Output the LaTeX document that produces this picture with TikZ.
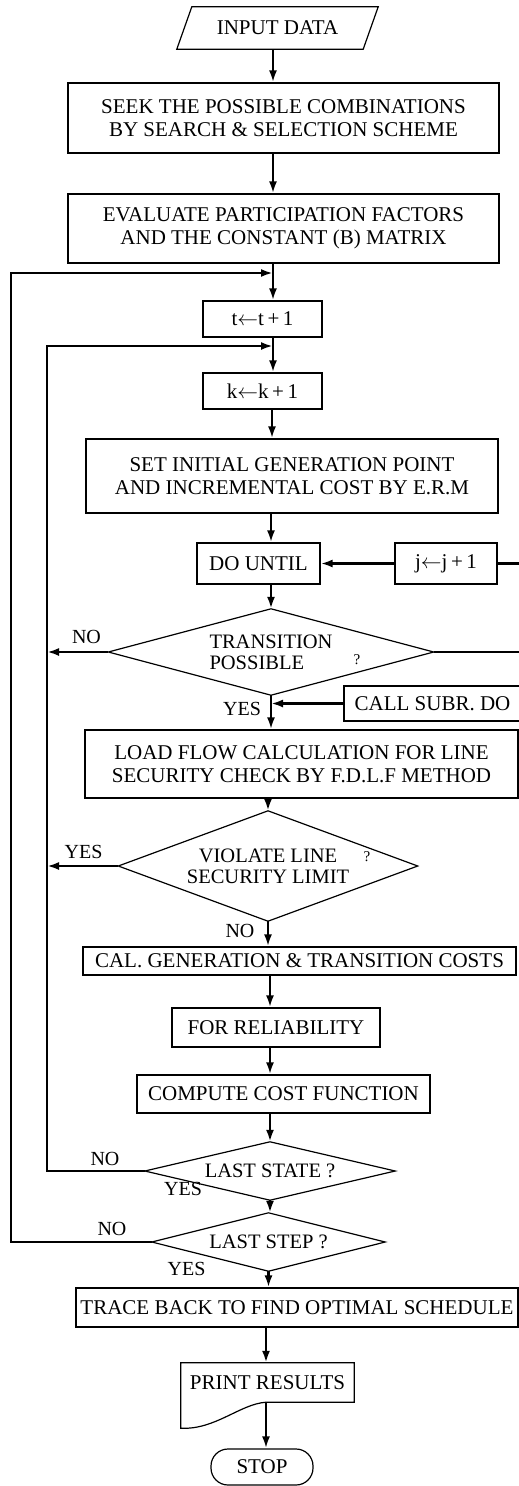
\documentclass[tikz,border=0pt]{standalone}
\usepackage{fontspec}
\setmainfont{Liberation Serif}
\usetikzlibrary{arrows.meta}
\begin{document}
\begin{tikzpicture}[x=1pt,y=-1pt,
  box/.style={draw, line width=1.2pt, inner sep=0pt, align=center, font=\fontsize{21}{23}\selectfont},
  shp/.style={inner sep=0pt, align=center, font=\fontsize{20.5}{21}\selectfont},
  outl/.style={line width=1.2pt, line join=miter},
  conn/.style={line width=2.5pt},
  arr/.style={conn, -{Latex[length=12pt,width=8pt]}},
  lbl/.style={font=\fontsize{20}{22}\selectfont, inner sep=0pt},
  qm/.style={font=\fontsize{15}{16}\selectfont, inner sep=0pt}]
\clip (0,0) rectangle (519,1486);
\fill[white] (0,0) rectangle (519,1486);
% axis coordinates
\coordinate (a1) at (273,0);
\coordinate (a2) at (272,0);
\coordinate (a3) at (271,0);
\coordinate (a4) at (266,0);
\coordinate (ox) at (11,0);
\coordinate (ix) at (47,0);
\coordinate (rx) at (530,0);
\coordinate (j1) at (273,273);
\coordinate (j2) at (273,346);
% nodes
\node[shp, font=\fontsize{21}{23}\selectfont, minimum width=186pt, minimum height=42pt] (inp) at (277.5,28) {INPUT DATA};
\draw[outl] ([xshift=7.5pt]inp.north west) -- ([xshift=7.5pt]inp.north east) -- ([xshift=-7.5pt]inp.south east) -- ([xshift=-7.5pt]inp.south west) -- cycle;
\node[box, minimum width=431pt, minimum height=70pt] (seek) at (283.5,118) {SEEK THE POSSIBLE COMBINATIONS\\BY SEARCH \& SELECTION SCHEME};
\node[box, minimum width=431pt, minimum height=69pt] (eval) at (283.5,228.5) {EVALUATE PARTICIPATION FACTORS\\AND THE CONSTANT (B) MATRIX};
\node[box, minimum width=119pt, minimum height=36pt] (tb) at (262.5,319) {t$\leftarrow$t\,+\,1};
\node[box, minimum width=119pt, minimum height=36pt] (kb) at (262.5,391) {k$\leftarrow$k\,+\,1};
\node[box, minimum width=412pt, minimum height=74pt] (set) at (292,476) {SET INITIAL GENERATION POINT\\AND INCREMENTAL COST BY E.R.M};
\node[box, minimum width=123pt, minimum height=41pt] (du) at (258.5,563.5) {DO UNTIL};
\node[box, minimum width=102pt, minimum height=41pt] (jb) at (446,563.5) {j$\leftarrow$j\,+\,1};
\node[shp, align=left, minimum width=325pt, minimum height=86pt] (tr) at (271,652) {TRANSITION\\POSSIBLE};
\draw[outl] (tr.north) -- (tr.east) -- (tr.south) -- (tr.west) -- cycle;
\node[qm] (q1) at (357,660) {?};
\node[box, minimum width=177pt, minimum height=35pt] (cs) at (432.5,703.5) {CALL SUBR. DO};
\node[box, minimum width=433pt, minimum height=68pt] (ld) at (301.5,764) {LOAD FLOW CALCULATION FOR LINE\\SECURITY CHECK BY F.D.L.F METHOD};
\node[shp, minimum width=299pt, minimum height=110pt] (vi) at (268,866) {VIOLATE LINE\\SECURITY LIMIT};
\draw[outl] (vi.north) -- (vi.east) -- (vi.south) -- (vi.west) -- cycle;
\node[qm] (q2) at (367,857) {?};
\node[box, minimum width=433pt, minimum height=28pt] (cal) at (299.5,961) {CAL. GENERATION \& TRANSITION COSTS};
\node[box, minimum width=208pt, minimum height=39pt] (fr) at (276,1027.5) {FOR RELIABILITY};
\node[box, minimum width=293pt, minimum height=38pt] (cp) at (283.5,1094) {COMPUTE COST FUNCTION};
\node[shp, minimum width=250pt, minimum height=58pt] (ls) at (270,1171) {LAST STATE ?};
\draw[outl] (ls.north) -- (ls.east) -- (ls.south) -- (ls.west) -- cycle;
\node[shp, minimum width=233pt, minimum height=58pt] (lp) at (268.5,1242) {LAST STEP ?};
\draw[outl] (lp.north) -- (lp.east) -- (lp.south) -- (lp.west) -- cycle;
\node[box, minimum width=442pt, minimum height=39pt] (trc) at (297,1307.5) {TRACE BACK TO FIND OPTIMAL SCHEDULE};
\node[shp, font=\fontsize{21}{23}\selectfont, minimum width=173pt, minimum height=39pt] (pr) at (267.5,1382.5) {PRINT RESULTS};
\draw[outl] (pr.south -| a4) -- (pr.south east) -- (pr.north east) -- (pr.north west) -- ([yshift=-26pt]pr.south west) .. controls (215,1430) and (240,1404) .. (pr.south -| a4);
\node[box, rounded corners=17pt, minimum width=102pt, minimum height=36pt] (stop) at (262,1467) {STOP};
% labels
\node[lbl] (no1) at (86.5,637) {NO};
\node[lbl] (yes1) at (242,709) {YES};
\node[lbl] (yes2) at (83.5,852) {YES};
\node[lbl] (no2) at (240,931) {NO};
\node[lbl] (no3) at (105,1159) {NO};
\node[lbl] (yes3) at (183,1189) {YES};
\node[lbl] (no4) at (112,1229) {NO};
\node[lbl] (yes4) at (186.5,1269) {YES};
% main flow
\draw[arr] (inp.south -| a1) -- (seek.north -| a1);
\draw[arr] (seek.south -| a1) -- (eval.north -| a1);
\draw[arr] (eval.south -| a1) -- (tb.north -| a1);
\draw[arr] (tb.south -| a1) -- (kb.north -| a1);
\draw[arr] (kb.south -| a2) -- (set.north -| a2);
\draw[arr] (set.south -| a3) -- (du.north -| a3);
\draw[arr] (du.south -| tr) -- (tr.north);
\draw[arr] (tr.south) -- (ld.north -| tr);
\draw[arr] (ld.south -| vi) -- (vi.north);
\draw[arr] (vi.south) -- (cal.north -| vi);
\draw[arr] (cal.south -| ls) -- (fr.north -| ls);
\draw[arr] (fr.south -| ls) -- (cp.north -| ls);
\draw[arr] (cp.south -| ls) -- (ls.north);
\draw[arr] (ls.south) -- (ls.south |- lp.north);
\draw[arr] (lp.south) -- (trc.north -| lp);
\draw[arr] (trc.south -| a4) -- (pr.north -| a4);
\draw[arr] (pr.south -| a4) -- (stop.north -| a4);
% loops
\draw[arr] (lp.west) -- (lp.west -| ox) -- (ox |- j1) -- (j1);
\draw[arr] (ls.west) -- (ls.west -| ix) -- (ix |- j2) -- (j2);
\draw[arr] (tr.west) -- (tr.west -| ix);
\draw[arr] (vi.west) -- (vi.west -| ix);
\draw[arr] (jb.west) -- (du.east);
\draw[arr] (cs.west) -- (cs.west -| tr);
\draw[conn] (jb.east) -- (jb.east -| rx);
\draw[conn] (tr.east) -- (tr.east -| rx);
\end{tikzpicture}
\end{document}
